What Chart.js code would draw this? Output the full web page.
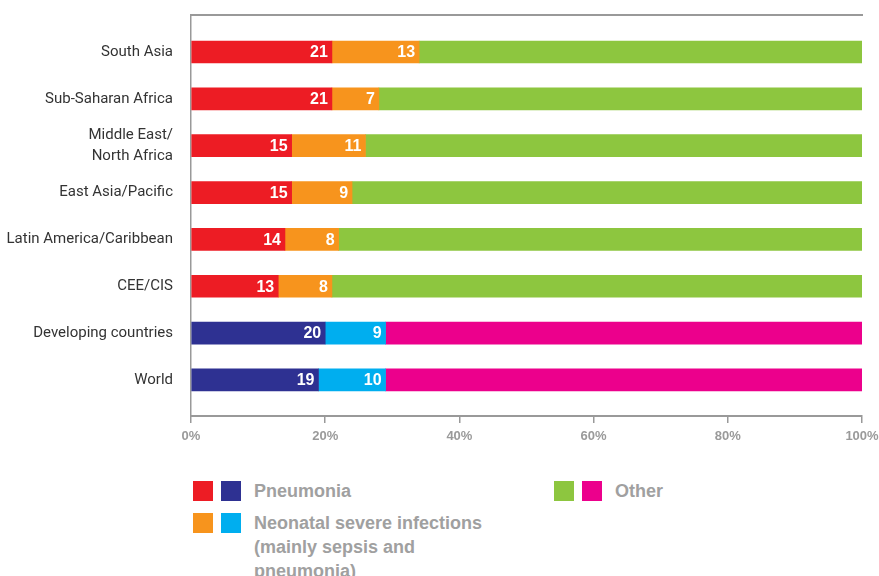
<!DOCTYPE html>
<html><head><meta charset="utf-8">
<script src="https://cdn.jsdelivr.net/npm/chart.js@4/dist/chart.umd.min.js"></script>
<style>
html,body{margin:0;padding:0;background:#fff;width:879px;height:576px;overflow:hidden;}
#wrap{position:relative;width:879px;height:576px;}
#c{position:absolute;left:0;top:0;}
.lgtext{position:absolute;font-family:"Liberation Sans",Arial,sans-serif;font-weight:bold;font-size:18px;color:#a0a0a0;line-height:24px;width:240px;}
.sw{position:absolute;width:20px;height:20px;}
</style></head>
<body><div id="wrap"><canvas id="c" width="879" height="452" style="width:879px;height:452px"></canvas><div id="legend"></div></div>
<script>
// ---- data ----
const categories = ['South Asia', 'Sub-Saharan Africa', ['Middle East/', 'North Africa'], 'East Asia/Pacific',
  'Latin America/Caribbean', 'CEE/CIS', 'Developing countries', 'World'];
const pneumonia = [21, 21, 15, 15, 14, 13, 20, 19];
const neonatal  = [13, 7, 11, 9, 8, 8, 9, 10];
const other     = [66, 72, 74, 76, 78, 79, 71, 71];
const isGlobal  = [false, false, false, false, false, false, true, true];
const xTickValues = [0, 20, 40, 60, 80, 100];
const seriesNames = ['Pneumonia', 'Neonatal severe infections (mainly sepsis and pneumonia)', 'Other'];

// ---- styles ----
const regionColors = ['#ED1C24', '#F7941D', '#8DC63F'];
const globalColors = ['#2E3192', '#00AEEF', '#EC008C'];
const colorsFor = k => isGlobal.map(g => g ? globalColors[k] : regionColors[k]);
const toPoints = arr => arr.map((v, i) => ({x: v, y: i}));

const valueLabels = {
  id: 'valueLabels',
  afterDatasetsDraw(chart) {
    const ctx = chart.ctx;
    ctx.save();
    ctx.fillStyle = '#ffffff';
    ctx.font = 'bold 16px "Liberation Sans", Arial, sans-serif';
    ctx.textAlign = 'right';
    ctx.textBaseline = 'middle';
    chart.data.datasets.forEach((ds, di) => {
      if (!ds.showValues) return;
      chart.getDatasetMeta(di).data.forEach((el, i) => {
        ctx.fillText(String(ds.data[i].x), el.x - 4, el.y + 1);
      });
    });
    ctx.restore();
  }
};

new Chart(document.getElementById('c'), {
  type: 'bar',
  data: {
    datasets: [
      {label: seriesNames[0], data: toPoints(pneumonia), backgroundColor: colorsFor(0), showValues: true},
      {label: seriesNames[1], data: toPoints(neonatal), backgroundColor: colorsFor(1), showValues: true},
      {label: seriesNames[2], data: toPoints(other), backgroundColor: colorsFor(2), showValues: false}
    ]
  },
  options: {
    indexAxis: 'y',
    responsive: false,
    animation: false,
    datasets: {bar: {barThickness: 22, borderWidth: 0}},
    layout: {padding: {top: 15, right: 17, bottom: 0, left: 0}},
    plugins: {legend: {display: false}, tooltip: {enabled: false}},
    scales: {
      x: {
        type: 'linear', stacked: true, min: 0, max: 100, position: 'bottom', offset: false,
        afterBuildTicks: s => { s.ticks = xTickValues.map(v => ({value: v})); },
        afterFit: s => { s.height = 36; s.paddingLeft = 0; s.paddingRight = 0; },
        ticks: {callback: v => v + '%', color: '#9a9a9a', padding: 6, maxRotation: 0,
          font: {family: '"Liberation Sans", Arial, sans-serif', weight: 'bold', size: 13}},
        grid: {drawOnChartArea: false, drawTicks: true, tickLength: 7, color: '#999999', lineWidth: 1.5},
        border: {display: true, color: '#999999', width: 2}
      },
      x2: {
        type: 'linear', position: 'top', min: 0, max: 100, display: true, offset: false,
        afterFit: s => { s.height = 0; s.paddingLeft = 0; s.paddingRight = 0; },
        ticks: {display: false},
        grid: {display: false, drawTicks: false},
        border: {display: true, color: '#999999', width: 2}
      },
      y: {
        type: 'linear', reverse: true, stacked: true, min: -0.79, max: 7.77, offset: false,
        afterBuildTicks: s => { s.ticks = categories.map((_, i) => ({value: i})); },
        afterFit: s => { s.width = 191; s.paddingTop = 0; s.paddingBottom = 0; },
        ticks: {autoSkip: false, padding: 18, color: '#333333', callback: v => categories[v],
          font: {family: 'Roboto, "Liberation Sans", sans-serif', size: 15, lineHeight: 1.35}},
        grid: {display: false, drawTicks: false, offset: false},
        border: {display: true, color: '#999999', width: 1.5}
      }
    }
  },
  plugins: [valueLabels]
});

// ---- HTML legend (two swatches per series) ----
const legendPos = [{x: 193, y: 481}, {x: 193, y: 513}, {x: 554, y: 481}];
const legend = document.getElementById('legend');
seriesNames.forEach((name, k) => {
  const p = legendPos[k];
  [regionColors[k], globalColors[k]].forEach((c, j) => {
    const s = document.createElement('div');
    s.className = 'sw';
    s.style.left = (p.x + j * 28) + 'px';
    s.style.top = p.y + 'px';
    s.style.background = c;
    legend.appendChild(s);
  });
  const t = document.createElement('div');
  t.className = 'lgtext';
  t.style.left = (p.x + 61) + 'px';
  t.style.top = (p.y - 2) + 'px';
  t.textContent = name;
  legend.appendChild(t);
});
</script>
</body></html>
